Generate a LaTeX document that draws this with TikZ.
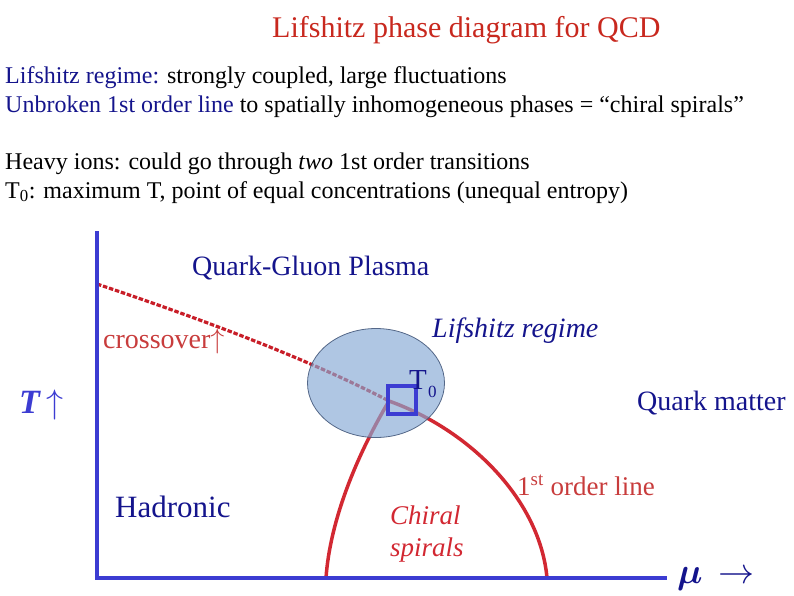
\RequirePackage{fix-cm}
\documentclass[tikz,border=0pt]{standalone}
\usepackage{fontspec}
\setmainfont{Liberation Serif}
\usepackage{bm}
\usetikzlibrary{shapes.geometric}
\newcommand{\fsz}[1]{\fontsize{#1}{#1}\selectfont}
\definecolor{titlered}{RGB}{200,40,30}
\definecolor{navy}{RGB}{20,20,140}
\definecolor{axisblue}{RGB}{60,60,210}
\definecolor{linered}{RGB}{210,40,50}
\definecolor{dashred}{RGB}{200,30,40}
\definecolor{labred}{RGB}{200,60,60}
\definecolor{ellfill}{RGB}{134,169,212}
\definecolor{ellborder}{RGB}{70,90,125}
\begin{document}
\begin{tikzpicture}[x=1pt,y=-1pt,
  txt/.style={inner sep=0pt, anchor=base west},
  axisline/.style={draw=axisblue, line width=4.5pt},
  phaseline/.style={draw=linered, line width=3.5pt},
  crossline/.style={draw=dashred, line width=3.2pt, dash pattern=on 4.5pt off 1.8pt}]
\useasboundingbox (0,0) rectangle (794,595);
% title and text
\node[txt, font=\fsz{30}, text=titlered] (title) at (272,37) {Lifshitz phase diagram for QCD};
\node[txt, font=\fsz{24}] (l1) at (5,83) {\textcolor{navy}{Lifshitz regime:} strongly coupled, large fluctuations};
\node[txt, font=\fsz{24}] (l2) at (5,112) {\textcolor{navy}{Unbroken 1st order line} to spatially inhomogeneous phases = “chiral spirals”};
\node[txt, font=\fsz{24}] (l3) at (5,169) {Heavy ions: could go through \textit{two} 1st order transitions};
\node[txt, font=\fsz{24}] (l4) at (5,198) {T\textsubscript{0}: maximum T, point of equal concentrations (unequal entropy)};
% coordinates
\coordinate (otop) at (97,233);
\coordinate (origin) at (97,578);
\coordinate (xend) at (665,578);
\coordinate (cstart) at (97,284);
\coordinate (peak) at (389,401);
\coordinate (lbot) at (326,578);
\coordinate (rbot) at (547,578);
% lines
\draw[crossline] (cstart) .. controls (210,322) and (310,360) .. (peak);
\draw[phaseline] (peak) .. controls (357,455) and (330,520) .. (lbot);
\draw[phaseline] (peak) .. controls (470,430) and (540,500) .. (rbot);
% Lifshitz ellipse
\node[ellipse, draw=ellborder, line width=0.8pt, fill=ellfill, fill opacity=0.66, draw opacity=0.9,
  minimum width=137pt, minimum height=109pt, inner sep=0pt] (lif) at (376,383) {};
\node[draw=axisblue, line width=4pt, minimum size=28pt, inner sep=0pt] (sq) at (402,400) {};
% axes
\draw[axisline, line cap=rect] (otop) -- (origin) -- (xend);
% labels
\node[txt, font=\fsz{28}, text=navy] (qgp) at (192,275) {Quark-Gluon Plasma};
\node[txt, font=\fsz{28}, text=labred] (cross) at (103,348) {crossover$\uparrow$};
\node[txt, font=\fsz{28}, text=navy] (lifl) at (432,337) {\textit{Lifshitz regime}};
\node[txt, font=\fsz{29}, text=navy] (tzero) at (409,389) {T};
\node[txt, font=\fsz{17}, text=navy] (tzs) at (428,397) {0};
\node[txt, font=\fsz{34}, text=axisblue] (tlab) at (19,413) {\textbf{\textit{T}}\,$\uparrow$};
\node[txt, font=\fsz{28}, text=navy] (qm) at (637,410) {Quark matter};
\node[txt, font=\fsz{31}, text=navy] (had) at (115,517) {Hadronic};
\node[txt, font=\fsz{27}, text=labred] (fol) at (517,495) {1\textsuperscript{st} order line};
\node[txt, font=\fsz{27}, text=linered] (chi) at (390,524) {\textit{Chiral}};
\node[txt, font=\fsz{27}, text=linered] (spi) at (390,556) {\textit{spirals}};
\node[txt, font=\fsz{36}, text=navy] (mu) at (677,583) {$\bm{\mu}\,\rightarrow$};
\end{tikzpicture}
\end{document}
